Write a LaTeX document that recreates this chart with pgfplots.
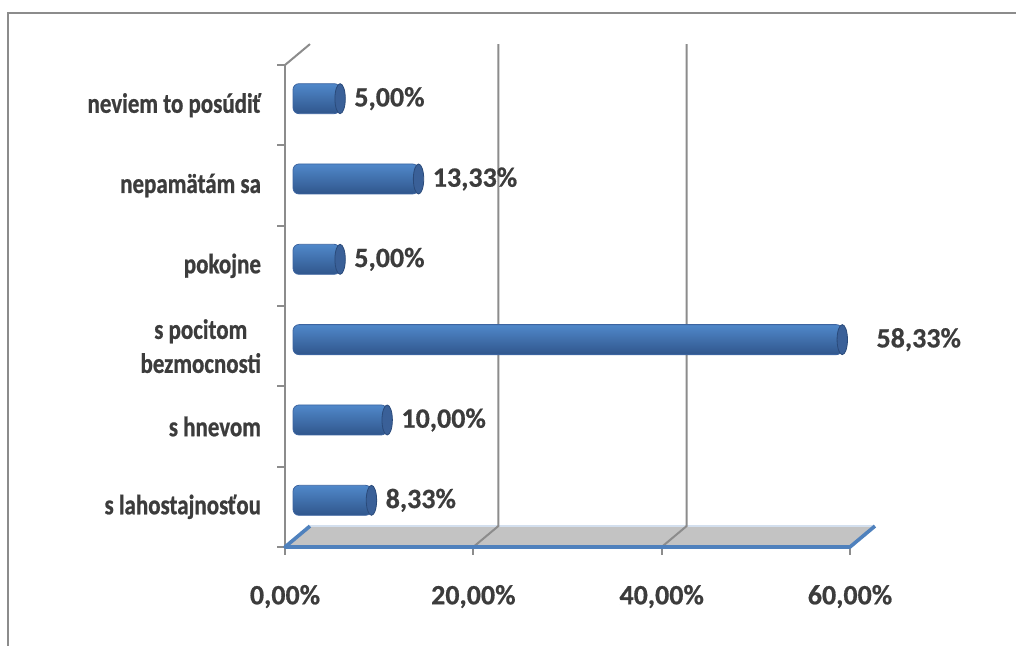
\documentclass[border=0pt]{standalone}
\usepackage{fontspec}
\setmainfont{Carlito}[BoldFeatures={FakeBold=0.6}]
\newfontfamily\catfont{Carlito}[FakeStretch=0.82, BoldFeatures={FakeBold=0.8}]
\usepackage{pgfplots}
\pgfplotsset{compat=1.18}
\usepackage{pgfplotstable}

\definecolor{txt}{HTML}{3C3C3C}
\definecolor{gridc}{HTML}{8C8C8C}
\definecolor{edgeblue}{HTML}{4F81BD}
\definecolor{floorc}{HTML}{C3C3C3}
\definecolor{bartop}{HTML}{5088CA}
\definecolor{barmid}{HTML}{649CDE}
\definecolor{barbot}{HTML}{30568C}
\definecolor{barline}{HTML}{3C64A0}
\definecolor{capc}{HTML}{3A6098}
\definecolor{capline}{HTML}{2A4A7A}

% end cap of the cylinder
\pgfdeclareplotmark{cap}{%
  \pgfpathellipse{\pgfpointorigin}{\pgfpoint{2.6pt}{0pt}}{\pgfpoint{0pt}{7.5pt}}%
  \pgfusepathqfillstroke}

% y = category index (bottom to top), val in %, off = extra label shift (pt)
\pgfplotstableread{
y val off
0 8.33 0
1 10.00 0
2 58.33 10
3 5.00 0
4 13.33 0
5 5.00 0
}\data

\begin{document}
\begin{tikzpicture}
\begin{axis}[
    scale only axis,
    width=282.5pt, height=241pt,
    xmin=0, xmax=60,
    ymin=-0.5, ymax=5.5,
    clip=false,
    axis x line*=bottom, axis y line*=left,
    x axis line style={draw=none},
    y axis line style={gridc, line width=1pt},
    xtick={0,20,40,60},
    xticklabels={{0,00\%},{20,00\%},{40,00\%},{60,00\%}},
    ytick={0,...,5},
    yticklabels={s lahostajnosťou, s hnevom, {s pocitom\\bezmocnosti}, pokojne, nepamätám sa, neviem to posúdiť},
    minor xtick={0,20,40,60},
    minor ytick={-0.5,0.5,...,5.5},
    major tick length=0pt,
    minor tick length=4pt,
    tick align=outside,
    tick style={gridc, line width=1pt},
    font=\fontsize{14}{17}\selectfont\bfseries,
    tick label style={txt},
    yticklabel style={align=center, xshift=-8.5pt, font=\catfont\fontsize{14}{17}\selectfont\bfseries},
    xticklabel style={yshift=-15.5pt},
    /pgf/number format/assume math mode=true,
]
% 3D floor and back gridlines
\fill[floorc] (axis cs:0,-0.5) -- (axis cs:60,-0.5) -- (axis cs:62.65,-0.24) -- (axis cs:2.65,-0.24) -- cycle;
\draw[edgeblue!25, line width=0.6pt] (axis cs:2.65,-0.24) -- (axis cs:62.65,-0.24);
\draw[gridc, line width=1pt] (axis cs:20,-0.5) -- (axis cs:22.65,-0.24) -- (axis cs:22.65,5.76);
\draw[gridc, line width=1pt] (axis cs:40,-0.5) -- (axis cs:42.65,-0.24) -- (axis cs:42.65,5.76);
\draw[gridc, line width=1pt] (axis cs:0,5.5) -- (axis cs:2.65,5.76);
\draw[edgeblue, line width=1.8pt, line join=round] (axis cs:2.65,-0.24) -- (axis cs:0,-0.5) -- (axis cs:60,-0.5) -- (axis cs:62.65,-0.24);
% outer frame
\draw[gridc, line width=1.2pt] (axis cs:-29.42,-1.732) -- (axis cs:-29.42,6.147) -- (axis cs:77.63,6.147);
\coordinate (tl) at (axis cs:-30.27,6.309);
\coordinate (br) at (axis cs:77.63,-1.732);

% one plot per bar so that each cylinder gets its own shading
\pgfplotsinvokeforeach{0,...,5}{
\addplot[xbar, bar width=15pt, bar shift=0pt,
    xshift=4pt, yshift=3.25pt,
    draw=barline, line width=0.4pt, rounded corners=3pt,
    top color=bartop, middle color=barmid, bottom color=barbot,
    restrict expr to domain={\coordindex}{#1:#1},
    visualization depends on={\thisrow{off} \as \off},
    nodes near coords={\pgfmathprintnumber[fixed,fixed zerofill,precision=2,use comma]{\pgfplotspointmeta}\%},
    nodes near coords align={horizontal},
    every node near coord/.append style={txt, xshift=3.6pt+\off pt, draw=none},
] table[x=val, y=y] {\data};
}
\addplot[only marks, mark=cap, xshift=4pt, yshift=3.25pt,
    mark options={fill=capc, draw=capline, line width=0.4pt}]
    table[x=val, y=y] {\data};
\end{axis}
\pgfresetboundingbox
\path[use as bounding box] (tl) rectangle (br);
\end{tikzpicture}
\end{document}
